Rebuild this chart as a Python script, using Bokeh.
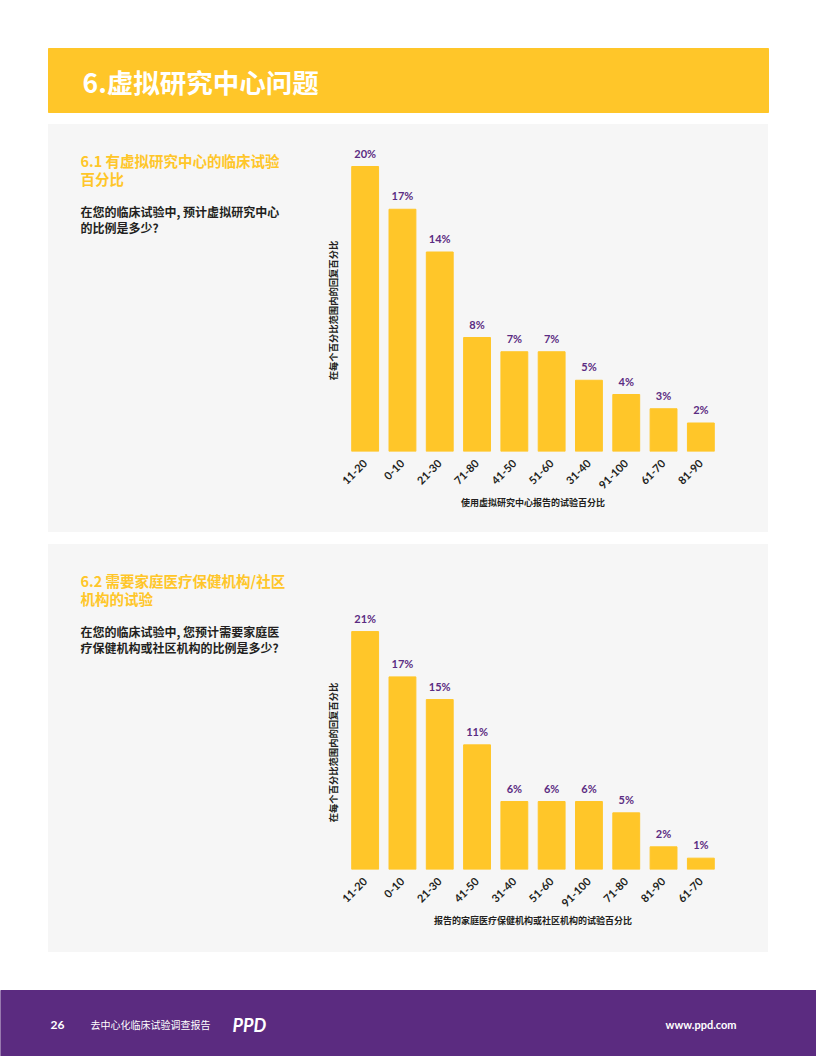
from bokeh.plotting import figure
from bokeh.models import Range1d, FactorRange, Spacer
from bokeh.layouts import column, row
from bokeh.core.properties import value
from bokeh.embed import file_html
from bokeh.resources import INLINE
import math

# ---------------- data ----------------
cats1 = ["11-20", "0-10", "21-30", "71-80", "41-50", "51-60", "31-40", "91-100", "61-70", "81-90"]
vals1 = [20, 17, 14, 8, 7, 7, 5, 4, 3, 2]
cats2 = ["11-20", "0-10", "21-30", "41-50", "31-40", "51-60", "91-100", "71-80", "81-90", "61-70"]
vals2 = [21, 17, 15, 11, 6, 6, 6, 5, 2, 1]

page_title = "6.虚拟研究中心问题"
sec1_title = ["6.1 有虚拟研究中心的临床试验", "百分比"]
sec1_q = ["在您的临床试验中, 预计虚拟研究中心", "的比例是多少?"]
sec2_title = ["6.2 需要家庭医疗保健机构/社区", "机构的试验"]
sec2_q = ["在您的临床试验中, 您预计需要家庭医", "疗保健机构或社区机构的比例是多少?"]
ylab = "在每个百分比范围内的回复百分比"
xlab1 = "使用虚拟研究中心报告的试验百分比"
xlab2 = "报告的家庭医疗保健机构或社区机构的试验百分比"

YELLOW = "#FFC629"
GRAY = "#F6F6F6"
PURPLE = "#5B2C82"
DARK = "#231F20"
CJK = value("Noto Sans CJK SC")
LAT = value("Lato")


def blank(w, h, xr, yr, bg, top=0, bottom=0):
    f = figure(width=w, height=h, x_range=Range1d(*xr), y_range=Range1d(*yr),
               output_backend="svg", toolbar_location=None, min_border=0,
               min_border_top=top, min_border_bottom=bottom)
    f.axis.visible = False
    f.grid.visible = False
    f.outline_line_color = None
    f.background_fill_color = bg
    f.border_fill_color = bg
    return f


# ---------------- header ----------------
hdr = blank(816, 124, (0, 816), (124, 0), "white")
hdr.quad(left=48, right=768, top=48, bottom=112, color=YELLOW)
hdr.text(x=[82], y=[81], text=[page_title], text_font=CJK, text_font_size="26.5px",
         text_font_style="bold", text_color="white", text_baseline="middle")

TOP = 16


def text_panel(y0, y1, bottom, title, q, ly):
    f = blank(292, 408, (48, 340), (y1 - bottom, y0 + TOP), GRAY, top=TOP, bottom=bottom)
    f.text(x=[80, 80], y=[y0 + 36, y0 + 54], text=title, text_font=CJK, text_font_size="14.5px",
           text_font_style="bold", text_color=YELLOW, text_baseline="middle")
    f.text(x=[80, 80], y=[y0 + 87, y0 + 103], text=q, text_font=CJK, text_font_size="12px",
           text_font_style="bold", text_color=DARK, text_baseline="middle")
    f.text(x=[332], y=[ly], text=[ylab], text_font=CJK, text_font_size="9.3px",
           text_font_style="bold", text_color=DARK, text_baseline="middle", text_align="center",
           angle=math.pi / 2)
    return f


def chart(cats, vals, ymax, bottom, xlab):
    f = figure(width=428, height=408, x_range=FactorRange(factors=cats, range_padding=0),
               y_range=Range1d(0, ymax), output_backend="svg", toolbar_location=None,
               min_border_left=6, min_border_right=49, min_border_top=TOP, min_border_bottom=bottom)
    f.background_fill_color = GRAY
    f.border_fill_color = GRAY
    f.outline_line_color = None
    f.grid.visible = False
    f.yaxis.visible = False
    f.vbar(x=cats, top=vals, width=0.72, color=YELLOW)
    f.text(x=cats, y=vals, text=[f"{v}%" for v in vals], text_font=LAT, text_font_size="11px",
           text_font_style="bold", text_color=PURPLE, text_align="center",
           text_baseline="bottom", y_offset=-7)
    ax = f.xaxis[0]
    ax.axis_line_color = None
    ax.major_tick_line_color = None
    ax.minor_tick_line_color = None
    ax.major_label_orientation = math.pi / 4
    ax.major_label_text_font = "Lato"
    ax.major_label_text_font_size = "11px"
    ax.major_label_text_font_style = "bold"
    ax.major_label_text_color = DARK
    ax.major_label_standoff = 4
    ax.axis_label = xlab
    ax.axis_label_text_font = "Noto Sans CJK SC"
    ax.axis_label_text_font_size = "9px"
    ax.axis_label_text_font_style = "bold"
    ax.axis_label_text_color = DARK
    ax.axis_label_standoff = 0
    return f


t1 = text_panel(124, 532, 81, sec1_title, sec1_q, 310)
c1 = chart(cats1, vals1, 311 / 14.25, 81, xlab1)
t2 = text_panel(544, 952, 83, sec2_title, sec2_q, 752)
c2 = chart(cats2, vals2, 309 / 11.33, 83, xlab2)

# ---------------- footer ----------------
ftr = blank(816, 104, (0, 816), (1056, 952), "white")
ftr.quad(left=0, right=816, top=990, bottom=1060, color="#5B2B80")
ftr.text(x=[50], y=[1024], text=["26"], text_font=LAT, text_font_size="12px",
         text_font_style="bold", text_color="white", text_baseline="middle")
ftr.text(x=[90], y=[1024], text=["去中心化临床试验调查报告"], text_font=CJK, text_font_size="10px",
         text_color="white", text_baseline="middle")
ftr.text(x=[232], y=[1024], text=["PPD"], text_font=LAT, text_font_size="18px",
         text_font_style="bold italic", text_color="white", text_baseline="middle")
ftr.text(x=[736], y=[1024], text=["www.ppd.com"], text_font=LAT, text_font_size="11px",
         text_font_style="bold", text_color="white", text_baseline="middle", text_align="right")

gray_bg = {"background-color": GRAY}
page = column(
    hdr,
    row(Spacer(width=48, height=408), row(t1, c1, styles=gray_bg), Spacer(width=48, height=408)),
    Spacer(width=816, height=12),
    row(Spacer(width=48, height=408), row(t2, c2, styles=gray_bg), Spacer(width=48, height=408)),
    ftr,
)

open("out.html", "w").write(file_html(page, INLINE))
